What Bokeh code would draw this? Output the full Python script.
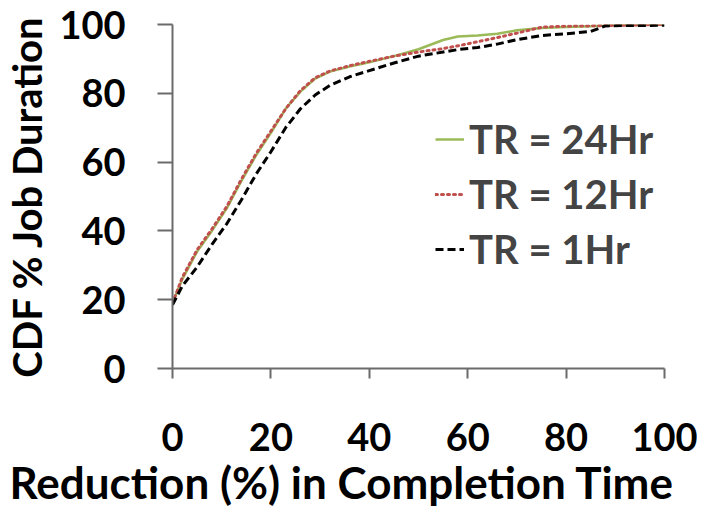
from bokeh.plotting import figure
from bokeh.models import Range1d, Legend, LegendItem, FixedTicker, Title
from bokeh.embed import file_html
from bokeh.resources import INLINE

# Reduction (%) in completion time
x = [0, 2, 5, 8, 11, 14, 17, 20, 23, 26, 29, 32, 36, 40, 45, 50, 55, 58, 62, 66, 70, 75, 80, 85, 88, 92, 96, 100]
# CDF % job duration
tr24 = [19, 26, 34, 40, 46.5, 54.5, 62, 68.5, 75.5, 80.5, 84.3, 86.3, 87.8, 89, 90.8, 92.8, 95.5, 96.5, 96.8, 97.3, 98.3, 99, 99.3, 99.5, 99.7, 99.8, 99.9, 100]
tr12 = [19, 26.5, 34.5, 40.5, 47, 55, 62.5, 69, 75.5, 80.8, 84.5, 86.5, 88, 89.3, 90.8, 92, 93, 93.8, 95, 96.2, 97.5, 99.2, 99.5, 99.6, 99.7, 99.8, 99.9, 100]
tr1 = [18.5, 24, 29.5, 36, 42, 49, 56.5, 63, 70, 75.5, 79.5, 82.3, 84.8, 86.6, 88.8, 90.8, 92, 92.7, 93.3, 94.3, 95.6, 96.8, 97.3, 98, 99.6, 99.7, 99.7, 99.8]
labels = ["TR = 24Hr", "TR = 12Hr", "TR = 1Hr"]
ticks = [0, 20, 40, 60, 80, 100]
x_title = "Reduction (%) in Completion Time"
y_title = "CDF % Job Duration"

FONT = "Lato"

p = figure(width=697, height=509, output_backend="svg", toolbar_location=None,
           x_range=Range1d(0, 100), y_range=Range1d(0, 100),
           min_border_left=167, min_border_right=33, min_border_top=24, min_border_bottom=141)
p.outline_line_color = None
p.xgrid.visible = False
p.ygrid.visible = False

r24 = p.line(x, tr24, line_color="#9BBB59", line_width=2.5)
r12 = p.line(x, tr12, line_color="#C0504D", line_width=3, line_dash="2 4", line_cap="round")
r1 = p.line(x, tr1, line_color="black", line_width=3, line_dash="8 4")

for ax in (p.xaxis[0], p.yaxis[0]):
    ax.ticker = FixedTicker(ticks=ticks)
    ax.minor_tick_line_color = None
    ax.axis_line_color = "#6b6b6b"
    ax.axis_line_width = 2
    ax.major_tick_line_color = "#6b6b6b"
    ax.major_tick_line_width = 2
    ax.major_tick_in = 0
    ax.major_label_text_font = FONT
    ax.major_label_text_font_style = "bold"
    ax.major_label_text_font_size = "38px"
    ax.major_label_text_color = "black"
    ax.axis_label_text_font = FONT
    ax.axis_label_text_font_style = "bold"
    ax.axis_label_text_font_size = "40px"
    ax.axis_label_text_color = "black"

p.xaxis.major_tick_out = 10
p.xaxis.major_label_standoff = 44

p.yaxis.major_tick_out = 15
p.yaxis.major_label_standoff = 32
p.yaxis.axis_label = y_title
p.yaxis.axis_label_standoff = 5

xt = Title(text=x_title, align="left", offset=-163, standoff=0,
           text_font=FONT, text_font_style="bold", text_font_size="44px", text_color="black")
p.add_layout(xt, "below")

legend = Legend(items=[LegendItem(label=labels[0], renderers=[r24]),
                       LegendItem(label=labels[1], renderers=[r12]),
                       LegendItem(label=labels[2], renderers=[r1])],
                location=(263, 95))
legend.label_text_font = FONT
legend.label_text_font_style = "bold"
legend.label_text_font_size = "40px"
legend.label_standoff = 5
legend.glyph_width = 29
legend.spacing = 7
legend.padding = 0
legend.margin = 0
legend.border_line_color = None
legend.background_fill_alpha = 0
p.add_layout(legend, "center")

open("out.html", "w").write(file_html(p, INLINE))
